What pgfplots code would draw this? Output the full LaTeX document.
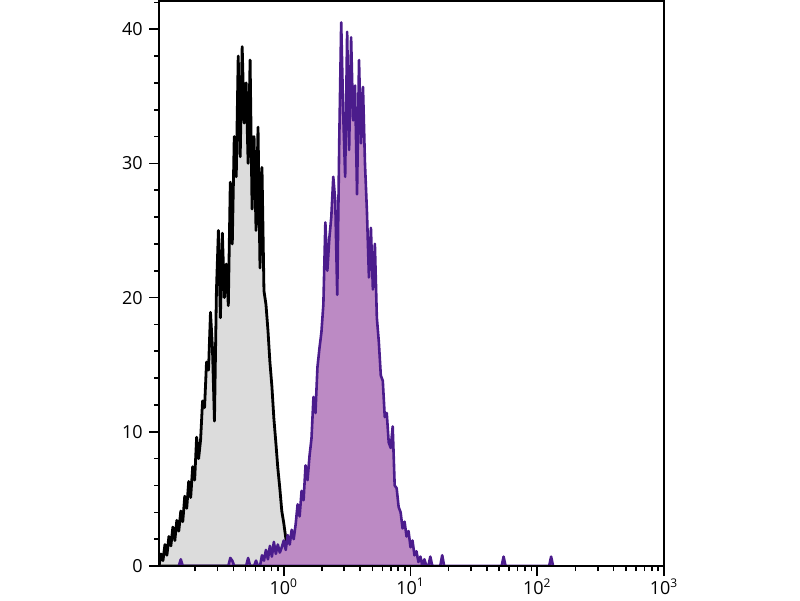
\documentclass[border=0pt]{standalone}
\usepackage{fontspec}
\setmainfont{Open Sans}
\usepackage{pgfplots}
\usepackage{pgfplotstable}
\pgfplotsset{compat=1.18}
\definecolor{grayfill}{HTML}{DCDCDC}
\definecolor{purpfill}{HTML}{BC8AC4}
\definecolor{purpline}{HTML}{4B1C8C}
% x = channel, 64 channels per decade, channel 0 = 10^0
\pgfplotstableread{
c v
-63 0
-62 0.9
-61 0.4
-60 1.6
-59 0.8
-58 2.2
-57 1.5
-56 2.9
-55 1.9
-54 3.4
-53 2.6
-52 4.1
-51 3.3
-50 5.2
-49 4.3
-48 6.3
-47 5.1
-46 7.4
-45 6.4
-44 9.6
-43 8.0
-42 9.4
-41 12.3
-40 11.8
-39 15.2
-38 14.6
-37 18.9
-36 16.2
-35 10.8
-34 20.5
-33 25.0
-32 18.5
-31 24.8
-30 20.0
-29 22.5
-28 19.4
-27 28.6
-26 24.0
-25 32.0
-24 29.0
-23 38.0
-22 30.5
-21 38.7
-20 33.0
-19 36.0
-18 30.0
-17 37.7
-16 26.6
-15 32.0
-14 25.0
-13 32.7
-12 22.2
-11 29.7
-10 20.5
-9 19.5
-8 17.6
-7 15.2
-6 13.4
-5 11.0
-4 9.2
-3 7.3
-2 5.8
-1 4.1
0 3.2
1 2.1
2 1.4
3 0.7
4 0.2
5 0
}\blackdata
\pgfplotstableread{
c v
-53 0
-52 0.5
-51 0
-28 0
-27 0.6
-26 0.4
-25 0
-19 0
-18 0.6
-17 0
-15 0
-14 0.4
-13 0
-12 0
-11 0.8
-10 0.4
-9 1.2
-8 0.5
-7 1.5
-6 0.7
-5 1.8
-4 0.9
-3 1.6
-2 1.0
-1 1.4
0 1.9
1 1.2
2 2.3
3 1.6
4 2.7
5 2.0
6 3.1
7 4.6
8 3.7
9 5.6
10 4.9
11 7.5
12 6.4
13 8.2
14 9.5
15 12.6
16 11.4
17 14.8
18 16.2
19 17.4
20 19.5
21 25.6
22 22.0
23 24.4
24 26.0
25 29.0
26 27.2
27 20.2
28 31.5
29 40.5
30 33.8
31 29.0
32 39.8
33 31.0
34 39.4
35 33.2
36 35.8
37 27.7
38 37.7
39 31.5
40 35.7
41 30.0
42 26.4
43 21.5
44 25.2
45 20.6
46 24.0
47 18.5
48 16.7
49 14.2
50 13.8
51 11.1
52 11.4
53 9.2
54 8.8
55 10.4
56 6.0
57 5.8
58 4.4
59 4.0
60 2.8
61 3.3
62 2.2
63 2.6
64 1.4
65 1.9
66 0.8
67 1.1
68 0.3
69 0.7
70 0
71 0.5
72 0
73 0
74 0.7
75 0
79 0
80 0.8
81 0
110 0
111 0.7
112 0
134 0
135 0.7
136 0
}\purpdata
\begin{document}
\fontsize{9}{11}\selectfont
\begin{tikzpicture}
\begin{axis}[
  name=ax,
  scale only axis,
  width=252.5pt, height=282.5pt,
  xmin=-63, xmax=192, ymin=0, ymax=42.1,
  axis on top,
  axis line style={line width=1pt},
  every tick/.style={black, line width=0.8pt},
  tick align=outside,
  xtick pos=bottom, ytick pos=left,
  major tick length=5pt, minor tick length=2.5pt,
  xtick={0,64,128,192},
  xticklabels={10\textsuperscript{0},10\textsuperscript{1},10\textsuperscript{2},10\textsuperscript{3}},
  minor xtick={-44.73,-33.46,-25.47,-19.27,-14.20,-9.91,-6.20,-2.93,
    19.27,30.54,38.53,44.73,49.80,54.09,57.80,61.07,
    83.27,94.54,102.53,108.73,113.80,118.09,121.80,125.07,
    147.27,158.54,166.53,172.73,177.80,182.09,185.80,189.07},
  ytick={0,10,20,30,40},
  minor ytick={2,4,6,8,12,14,16,18,22,24,26,28,32,34,36,38,42},
  /pgf/number format/assume math mode=true,
  tick label style={font=\fontsize{9}{11}\selectfont},
  xticklabel style={yshift=2pt},
]
\addplot[draw=black, line width=1.4pt, fill=grayfill, line join=round] table[x=c,y=v] {\blackdata} \closedcycle;
\addplot[draw=purpline, line width=1.3pt, fill=purpfill, line join=round] table[x=c,y=v] {\purpdata} \closedcycle;
\end{axis}
\pgfresetboundingbox
\path[use as bounding box] ([xshift=-79.5pt,yshift=-17pt]ax.south west) rectangle ([xshift=68pt,yshift=0.5pt]ax.north east);
\end{tikzpicture}
\end{document}
